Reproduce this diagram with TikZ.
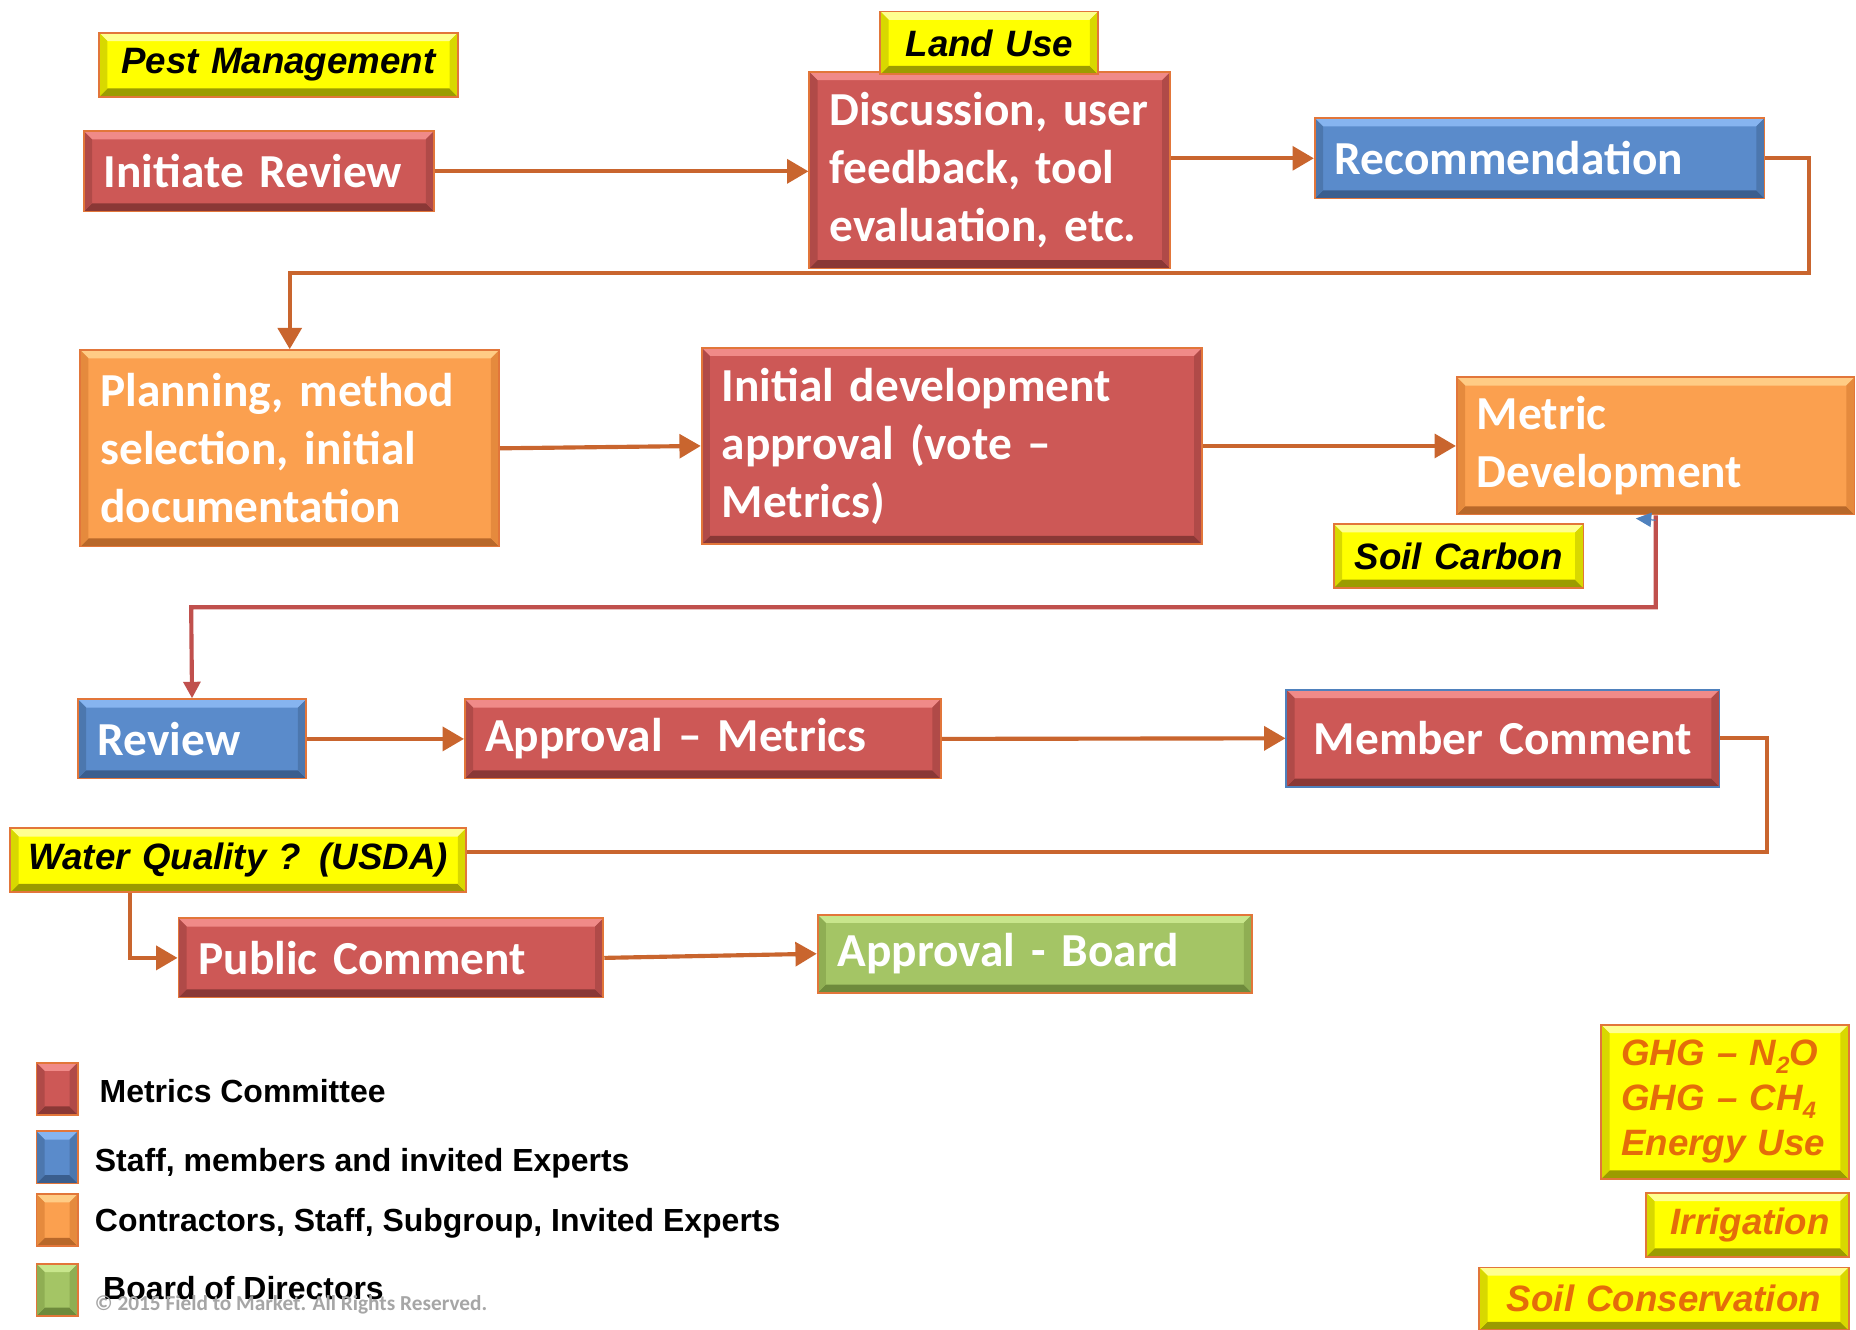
\documentclass[tikz,border=0pt]{standalone}
\usepackage{fontspec}
\setmainfont{Carlito}
\newfontfamily\arialf{Liberation Sans}
\usetikzlibrary{arrows.meta}
\pgfdeclarelayer{bg}
\pgfsetlayers{bg,main}

\definecolor{redf}{HTML}{CD5856}
\definecolor{redt}{HTML}{F08A88}
\definecolor{redb}{HTML}{8A3836}
\definecolor{reds}{HTML}{B04A48}
\definecolor{bluef}{HTML}{5A8BCB}
\definecolor{bluet}{HTML}{86B4F0}
\definecolor{blueb}{HTML}{3A5E8E}
\definecolor{blues}{HTML}{4C77AE}
\definecolor{orf}{HTML}{FBA04F}
\definecolor{ort}{HTML}{FFCC85}
\definecolor{orb}{HTML}{B8682A}
\definecolor{ors}{HTML}{E58A3D}
\definecolor{grf}{HTML}{A4C565}
\definecolor{grt}{HTML}{C8E68C}
\definecolor{grb}{HTML}{6E8A3C}
\definecolor{grs}{HTML}{8FAE53}
\definecolor{yef}{HTML}{FFFF00}
\definecolor{yet}{HTML}{FFFF90}
\definecolor{yeb}{HTML}{9C9C00}
\definecolor{yes}{HTML}{D8D800}
\definecolor{edgec}{HTML}{E2763A}
\definecolor{conc}{HTML}{C9652E}
\definecolor{conr}{HTML}{C0504D}
\definecolor{ghgc}{HTML}{E46C0A}
\definecolor{memb}{HTML}{4F81BD}
\definecolor{copyc}{HTML}{A6A6A6}

\tikzset{
 bevel/.style n args={4}{path picture={
   \fill[#1] (path picture bounding box.north west) -- (path picture bounding box.north east) -- ([shift={(-7pt,-7pt)}]path picture bounding box.north east) -- ([shift={(7pt,-7pt)}]path picture bounding box.north west) -- cycle;
   \fill[#2] (path picture bounding box.south west) -- (path picture bounding box.south east) -- ([shift={(-7pt,7pt)}]path picture bounding box.south east) -- ([shift={(7pt,7pt)}]path picture bounding box.south west) -- cycle;
   \fill[#3] (path picture bounding box.north west) -- ([shift={(7pt,-7pt)}]path picture bounding box.north west) -- ([shift={(7pt,7pt)}]path picture bounding box.south west) -- (path picture bounding box.south west) -- cycle;
   \fill[#4] (path picture bounding box.north east) -- ([shift={(-7pt,-7pt)}]path picture bounding box.north east) -- ([shift={(-7pt,7pt)}]path picture bounding box.south east) -- (path picture bounding box.south east) -- cycle;
 }},
 boxbase/.style={rectangle, anchor=north west, draw=edgec, line width=1.5pt, inner xsep=17pt, inner ysep=0pt, align=left, text=white, font=\fontsize{40}{49}\selectfont\bfseries},
 redbox/.style={boxbase, fill=redf, bevel={redt}{redb}{reds}{reds}},
 bluebox/.style={boxbase, fill=bluef, bevel={bluet}{blueb}{blues}{blues}},
 orbox/.style={boxbase, fill=orf, bevel={ort}{orb}{ors}{ors}},
 grbox/.style={boxbase, fill=grf, bevel={grt}{grb}{grs}{grs}},
 ybox/.style={boxbase, fill=yef, bevel={yet}{yeb}{yes}{yes}, text=black, align=center, inner xsep=10pt, font=\arialf\bfseries\itshape\fontsize{31}{38}\selectfont},
 legsq/.style={boxbase, inner sep=0pt, minimum width=35pt, minimum height=44pt},
 legtext/.style={anchor=base west, inner sep=0pt, text=black, font=\arialf\bfseries\fontsize{27}{32}\selectfont},
 con/.style={draw=conc, line width=3.5pt, -{Triangle[length=18pt,width=20pt]}},
 conred/.style={draw=conr, line width=3.5pt, -{Triangle[length=14pt,width=14pt]}},
 bluetip/.style={draw=memb, line width=1pt, -{Triangle[length=13pt,width=12pt]}},
}

\begin{document}
\begin{tikzpicture}[x=1pt, y=-1pt]
\begin{pgfonlayer}{bg}
\fill[white] (0,0) rectangle (1568,1123);
\end{pgfonlayer}
\useasboundingbox (0,0) rectangle (1568,1123);

% process boxes
\node[redbox, minimum width=296pt, minimum height=68pt, text width=262pt] (init) at (70,110) {Initiate Review};
\node[redbox, minimum width=305pt, minimum height=166pt, text width=271pt] (disc) at (683,60) {Discussion, user\\feedback, tool\\evaluation, etc.};
\node[bluebox, minimum width=380pt, minimum height=68pt, text width=346pt] (rec) at (1110,99) {Recommendation};
\node[orbox, minimum width=354pt, minimum height=166pt, text width=320pt] (plan) at (67,295) {Planning, method\\selection, initial\\documentation};
\node[redbox, minimum width=423pt, minimum height=166pt, text width=389pt] (idev) at (592,293) {Initial development\\approval (vote –\\Metrics)};
\node[orbox, minimum width=336pt, minimum height=116pt, text width=302pt] (metric) at (1230,318) {Metric\\Development};
\node[bluebox, minimum width=193pt, minimum height=67pt, text width=159pt] (review) at (65,590) {Review};
\node[redbox, minimum width=402pt, minimum height=67pt, text width=368pt] (appm) at (392,590) {Approval – Metrics};
\node[redbox, draw=memb, minimum width=366pt, minimum height=82pt, text width=332pt, align=center] (member) at (1086,582) {Member Comment};
\node[redbox, minimum width=359pt, minimum height=67pt, text width=325pt] (public) at (150,775) {Public Comment};
\node[grbox, minimum width=367pt, minimum height=66pt, text width=333pt] (board) at (690,772) {Approval - Board};

% yellow labels
\node[ybox, minimum width=303pt, minimum height=54pt, text width=283pt] (pest) at (83,27) {Pest Management};
\node[ybox, minimum width=184pt, minimum height=53pt, text width=164pt] (land) at (743,9) {Land Use};
\node[ybox, minimum width=211pt, minimum height=54pt, text width=191pt] (soil) at (1126,442) {Soil Carbon};
\node[ybox, minimum width=385pt, minimum height=54pt, text width=365pt] (water) at (8,699) {Water Quality ? (USDA)};
\node[ybox, text=ghgc, align=left, inner xsep=17pt, minimum width=209pt, minimum height=130pt, text width=175pt] (ghg) at (1352,865)
  {GHG – N\raisebox{-0.22em}{\fontsize{20}{20}\selectfont 2}O\\GHG – CH\raisebox{-0.22em}{\fontsize{20}{20}\selectfont 4}\\Energy Use};
\node[ybox, text=ghgc, align=right, inner xsep=16pt, minimum width=171pt, minimum height=54pt, text width=139pt] (irr) at (1390,1007) {Irrigation};
\node[ybox, text=ghgc, minimum width=312pt, minimum height=53pt, text width=292pt] (scons) at (1249,1070) {Soil Conservation};

% legend
\node[legsq, fill=redf, bevel={redt}{redb}{reds}{reds}] (lg1) at (30,897) {};
\node[legsq, fill=bluef, bevel={bluet}{blueb}{blues}{blues}] (lg2) at (30,955) {};
\node[legsq, fill=orf, bevel={ort}{orb}{ors}{ors}] (lg3) at (30,1008) {};
\node[legsq, fill=grf, bevel={grt}{grb}{grs}{grs}] (lg4) at (30,1067) {};
\node[legtext] (lt1) at (84,931) {Metrics Committee};
\node[legtext] (lt2) at (80,990) {Staff, members and invited Experts};
\node[legtext] (lt3) at (80,1040) {Contractors, Staff, Subgroup, Invited Experts};
\node[legtext] (lt4) at (87,1098) {Board of Directors};
\node[anchor=base west, inner sep=0pt, text=copyc, font=\fontsize{18}{20}\selectfont\bfseries] (copy) at (80,1107) {© 2015 Field to Market. All Rights Reserved.};

% connectors
\begin{pgfonlayer}{bg}
\draw[con] (init.east) -- (init.east -| disc.west);
\draw[con] (rec.west -| disc.east) -- (rec.west);
\coordinate (k1) at (1528,231);
\draw[con] (rec.east) -| (k1) -| (plan.north);
\draw[con] (plan.east) -- (idev.west);
\draw[con] (idev.east) -- (metric.west);
\coordinate (k2) at (161.5,513);
\draw[conred] (metric.south) |- (k2) -- (review.north);
\draw[con] (review.east) -- (appm.west);
\draw[con] (appm.east) -- (member.west);
\coordinate (k4) at (1493,720);
\coordinate (k5) at (110,720);
\draw[con] (member.east) -| (k4) -- (k5) |- (public.west);
\draw[con] (public.east) -- (board.west);
\end{pgfonlayer}
\coordinate (k3) at (1382,438);
\draw[bluetip] ([yshift=-4pt]metric.south) -- (k3);
\end{tikzpicture}
\end{document}
